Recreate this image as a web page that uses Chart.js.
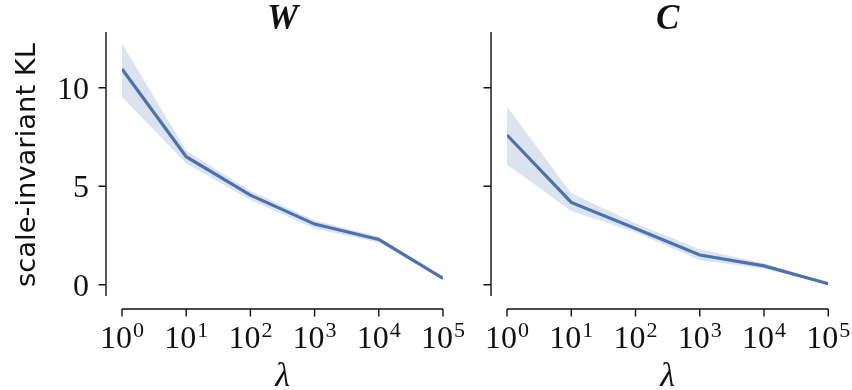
<!DOCTYPE html>
<html>
<head>
<meta charset="utf-8">
<script src="https://cdn.jsdelivr.net/npm/chart.js@4.4.1/dist/chart.umd.min.js"></script>
<style>
body { margin: 0; background: #fff; width: 852px; height: 390px; overflow: hidden; position: relative; }
canvas { position: absolute; top: 0; }
#left { left: 0; }
#right { left: 460px; }
</style>
</head>
<body>
<canvas id="left" width="480" height="390"></canvas>
<canvas id="right" width="392" height="390"></canvas>
<script>
// values
const lambdas = [1, 10, 100, 1000, 10000, 100000];
const wMean = [10.95, 6.5, 4.55, 3.08, 2.3, 0.32];
const wLow  = [9.54, 6.16, 4.3, 2.86, 2.13, 0.28];
const wHigh = [12.25, 6.8, 4.77, 3.28, 2.44, 0.36];
const cMean = [7.6, 4.18, 2.86, 1.51, 0.96, 0.05];
const cLow  = [6.11, 3.74, 2.66, 1.25, 0.83, 0.02];
const cHigh = [9.04, 4.64, 3.12, 1.8, 1.09, 0.08];
const yTicks = [0, 5, 10];
const yLabel = 'scale-invariant KL';
const xLabel = 'λ';

const BLUE = '#4C72B0';
const BAND = 'rgba(76,114,176,0.2)';
const INK = '#111';
const SERIF = '"Liberation Serif", "DejaVu Serif", serif';

const pts = arr => lambdas.map((x, i) => ({ x, y: arr[i] }));

// seaborn-like offset spines, ticks and labels, drawn with the chart's own scales
const axesPlugin = {
    id: 'axesPlugin',
    afterDraw(chart, args, o) {
        const ctx = chart.ctx;
        const a = chart.chartArea;
        const xs = chart.scales.x, ys = chart.scales.y;
        const spineX = a.left - 16, spineY = a.bottom + 13;
        ctx.save();
        ctx.strokeStyle = INK;
        ctx.fillStyle = INK;
        ctx.lineWidth = 1.4;
        ctx.beginPath();
        ctx.moveTo(spineX, a.top); ctx.lineTo(spineX, a.bottom);
        ctx.moveTo(a.left, spineY); ctx.lineTo(a.right, spineY);
        yTicks.forEach(v => {
            const py = ys.getPixelForValue(v);
            ctx.moveTo(spineX - 7.5, py); ctx.lineTo(spineX, py);
        });
        lambdas.forEach(v => {
            const px = xs.getPixelForValue(v);
            ctx.moveTo(px, spineY); ctx.lineTo(px, spineY + 7.5);
        });
        ctx.stroke();

        // x tick labels 10^n
        ctx.textBaseline = 'alphabetic';
        ctx.textAlign = 'left';
        lambdas.forEach(v => {
            const px = xs.getPixelForValue(v);
            const e = String(Math.round(Math.log10(v)));
            ctx.font = '32px ' + SERIF;
            const wb = ctx.measureText('10').width;
            ctx.font = '22px ' + SERIF;
            const we = ctx.measureText(e).width;
            const x0 = px - (wb + we + 1) / 2;
            ctx.font = '32px ' + SERIF;
            ctx.fillText('10', x0, spineY + 39);
            ctx.font = '22px ' + SERIF;
            ctx.fillText(e, x0 + wb + 1, spineY + 28);
        });

        // y tick labels
        if (o.showY) {
            ctx.font = '32px ' + SERIF;
            ctx.textAlign = 'right';
            yTicks.forEach(v => {
                ctx.fillText(String(v), spineX - 17, ys.getPixelForValue(v) + 11);
            });
            // y axis title
            ctx.save();
            let fs = 26;
            ctx.font = fs + 'px "DejaVu Sans"';
            fs = fs * 244 / ctx.measureText(yLabel).width;
            ctx.font = fs.toFixed(1) + 'px "DejaVu Sans"';
            ctx.translate(35, 165);
            ctx.rotate(-Math.PI / 2);
            ctx.textAlign = 'center';
            ctx.fillText(yLabel, 0, 0);
            ctx.restore();
        }

        const cx = (a.left + a.right) / 2;
        ctx.textAlign = 'center';
        ctx.font = 'italic 34px ' + SERIF;
        ctx.fillText(xLabel, cx, 386);
        ctx.font = 'bold italic 35px ' + SERIF;
        ctx.fillText(o.title, cx, 29);
        ctx.restore();
    }
};

function makePanel(id, title, mean, low, high, padding, showY) {
    return new Chart(document.getElementById(id), {
        type: 'line',
        data: {
            datasets: [
                { data: pts(low), borderWidth: 0, pointRadius: 0, fill: false, tension: 0 },
                { data: pts(high), borderWidth: 0, pointRadius: 0, fill: '-1', backgroundColor: BAND, tension: 0 },
                { data: pts(mean), borderColor: BLUE, borderWidth: 3.2, pointRadius: 0, fill: false, tension: 0 }
            ]
        },
        options: {
            responsive: false,
            animation: false,
            layout: { padding },
            plugins: {
                legend: { display: false },
                tooltip: { enabled: false },
                axesPlugin: { title, showY }
            },
            scales: {
                x: { type: 'logarithmic', min: 1, max: 100000, display: false },
                y: { type: 'linear', min: -0.57, max: 12.83, display: false }
            }
        },
        plugins: [axesPlugin]
    });
}

makePanel('left', 'W', wMean, wLow, wHigh, { left: 122, right: 37, top: 32, bottom: 94 }, true);
makePanel('right', 'C', cMean, cLow, cHigh, { left: 47, right: 23.7, top: 32, bottom: 94 }, false);
</script>
</body>
</html>
